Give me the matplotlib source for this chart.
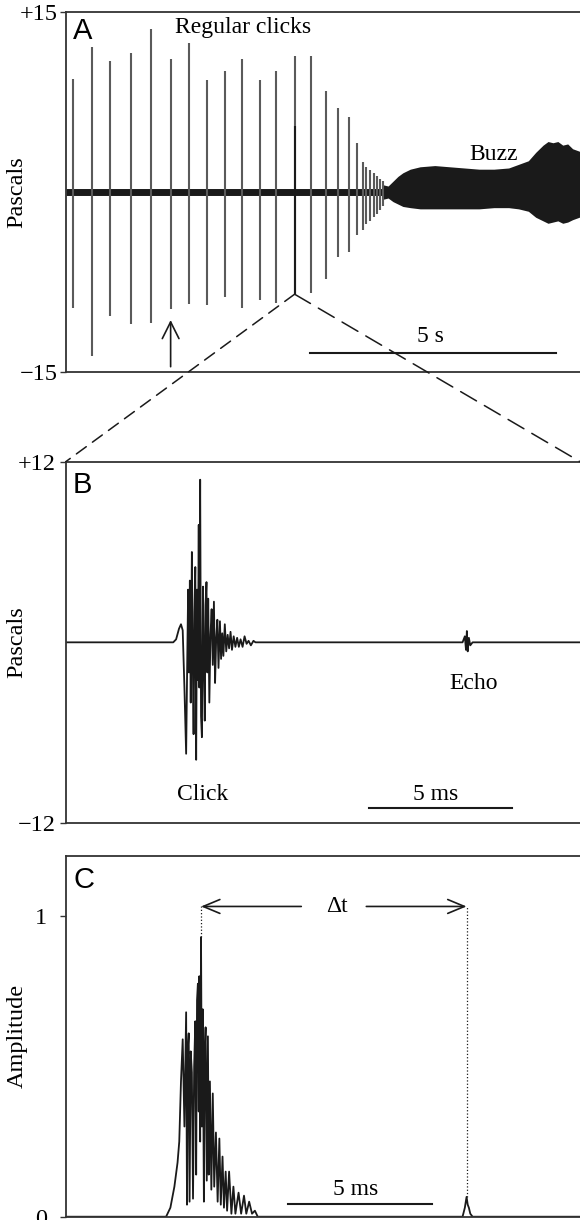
import matplotlib.pyplot as plt
from matplotlib.patches import ConnectionPatch

SERIF = 'Liberation Serif'
SANS = 'Liberation Sans'
INK = '#1a1a1a'
CLICK_GRAY = '#5a5a5a'

# Panel A: click train (s, Pa)
click_times = [0.15, 0.54, 0.90, 1.32, 1.73, 2.13, 2.50, 2.87, 3.23, 3.59, 3.95, 4.28, 4.65,
               4.98, 5.29, 5.54, 5.75, 5.91, 6.03, 6.11, 6.19, 6.26, 6.33, 6.39, 6.45]
click_top = [9.4, 12.1, 10.9, 11.6, 13.6, 11.1, 12.4, 9.3, 10.1, 11.1, 9.3, 10.1, 11.3,
             11.3, 8.4, 7.0, 6.2, 4.1, 2.5, 2.1, 1.8, 1.6, 1.3, 1.1, 0.9]
click_bot = [-9.65, -13.6, -10.3, -11.0, -10.9, -9.7, -9.3, -9.4, -8.7, -9.65, -9.0, -9.2, -8.5,
             -8.4, -7.2, -5.4, -5.0, -3.6, -3.2, -2.7, -2.4, -2.1, -1.8, -1.5, -1.2]

# Panel A: buzz envelope
buzz_t = [6.45, 6.55, 6.65, 6.75, 6.85, 7.0, 7.2, 7.5, 7.8, 8.1, 8.4, 8.7, 9.0, 9.2,
          9.4, 9.55, 9.7, 9.8, 9.9, 10.0, 10.1, 10.2, 10.3, 10.5]
buzz_top = [0.6, 0.5, 0.9, 1.3, 1.6, 1.9, 2.1, 2.2, 2.1, 2.0, 1.9, 1.9, 2.0, 2.3,
            2.6, 3.3, 3.9, 4.2, 4.1, 4.2, 3.9, 4.0, 3.6, 3.3]
buzz_bot = [-0.6, -0.5, -0.8, -1.0, -1.2, -1.3, -1.4, -1.4, -1.4, -1.4, -1.4, -1.3, -1.3, -1.4,
            -1.6, -2.1, -2.4, -2.6, -2.5, -2.4, -2.6, -2.5, -2.3, -2.0]

# Panel B: one click and its echo (ms, Pa)
wave_t = [0.0, 3.75, 3.85, 3.95, 4.02, 4.08, 4.14, 4.20, 4.24, 4.27, 4.30, 4.33, 4.36, 4.40,
          4.43, 4.46, 4.49, 4.52, 4.55, 4.58, 4.61, 4.64, 4.66, 4.69, 4.72, 4.75, 4.79, 4.82,
          4.85, 4.88, 4.91, 4.94, 4.97, 5.01, 5.05, 5.09, 5.13, 5.17, 5.21, 5.25, 5.29, 5.33,
          5.38, 5.42, 5.46, 5.50, 5.55, 5.60, 5.65, 5.70, 5.75, 5.80, 5.86, 5.92, 5.98, 6.04,
          6.10, 6.17, 6.24, 6.31, 6.38, 6.46, 6.55, 6.62, 6.70, 13.85, 13.93, 13.97, 14.00,
          14.03, 14.07, 14.12, 14.20, 17.95]
wave_p = [0.0, 0.0, 0.2, 0.9, 1.2, 0.8, -3.0, -7.4, -1.0, 3.5, -2.0, 4.1, -4.0, 6.0,
          -1.0, -6.1, 2.0, 5.0, -7.8, 3.5, -2.5, 7.8, -3.0, 10.8, -4.9, -6.3, 3.7, -1.5,
          -5.2, 2.5, 4.0, -2.0, 2.9, -4.0, 0.5, 2.2, -1.5, 2.7, -2.7, 0.3, 1.5, -1.7,
          1.4, -1.1, 0.6, -0.9, 1.2, -0.6, 0.5, -0.4, 0.7, -0.5, 0.4, -0.3, 0.3, -0.3,
          0.2, -0.3, 0.4, -0.1, 0.1, -0.2, 0.1, 0.0, 0.0, 0.0, 0.4, -0.5, 0.75,
          -0.6, 0.3, -0.2, 0.0, 0.0]

# Panel C: envelope (ms, normalised amplitude)
env_t = [0.0, 3.5, 3.65, 3.79, 3.9, 3.96, 4.02, 4.08, 4.14, 4.20, 4.23, 4.26, 4.29, 4.32,
         4.36, 4.40, 4.44, 4.48, 4.52, 4.55, 4.58, 4.61, 4.64, 4.66, 4.69, 4.72, 4.75, 4.78,
         4.82, 4.85, 4.88, 4.92, 4.96, 4.99, 5.03, 5.08, 5.13, 5.18, 5.24, 5.30, 5.36, 5.41,
         5.47, 5.52, 5.58, 5.63, 5.70, 5.78, 5.85, 5.92, 6.03, 6.12, 6.22, 6.30, 6.40, 6.50,
         6.60, 6.70, 13.85, 13.93, 13.99, 14.03, 14.07, 14.12, 14.20, 17.95]
env_a = [0.0, 0.0, 0.03, 0.10, 0.18, 0.25, 0.45, 0.59, 0.30, 0.68, 0.04, 0.56, 0.61, 0.05,
         0.55, 0.48, 0.06, 0.50, 0.65, 0.14, 0.72, 0.775, 0.35, 0.80, 0.25, 0.93, 0.30, 0.69,
         0.05, 0.55, 0.63, 0.12, 0.60, 0.14, 0.45, 0.09, 0.41, 0.10, 0.28, 0.05, 0.26, 0.04,
         0.20, 0.03, 0.15, 0.02, 0.15, 0.01, 0.10, 0.01, 0.08, 0.01, 0.07, 0.01, 0.05, 0.01,
         0.02, 0.0, 0.0, 0.03, 0.066, 0.04, 0.03, 0.01, 0.0, 0.0]
click_peak_t = 4.72
echo_peak_t = 13.99

fig = plt.figure(figsize=(5.8, 12.2), dpi=100)
axA = fig.add_axes([0.1135, 0.6948, 0.8865, 0.2956])
axB = fig.add_axes([0.1135, 0.3254, 0.8865, 0.2962])
axC = fig.add_axes([0.1135, 0.0027, 0.8865, 0.2957])


def style_axis(ax, ticks, labels, ylabel, pad):
    ax.spines['right'].set_visible(False)
    for s in ('left', 'top', 'bottom'):
        ax.spines[s].set_color('#333333')
        ax.spines[s].set_linewidth(1.3)
    ax.set_xticks([])
    ax.set_yticks(ticks)
    ax.set_yticklabels(labels, fontfamily=SERIF, fontsize=17.5)
    ax.tick_params(axis='y', direction='out', length=4.5, width=1, color='#333333', pad=pad)
    ax.set_ylabel(ylabel, fontfamily=SERIF, fontsize=17.5)
    ax.yaxis.set_label_coords(-0.075, 0.5)


# ---- A ----
axA.plot([0, 6.5], [0, 0], color=INK, lw=5, solid_capstyle='butt')
axA.vlines(click_times, click_bot, click_top, color=CLICK_GRAY, lw=1.5)
axA.vlines(click_times[12], click_bot[12], 5.5, color=INK, lw=1.5)
axA.fill_between(buzz_t, buzz_bot, buzz_top, color=INK, lw=0)
axA.set_xlim(0, 10.45)
axA.set_ylim(-15, 15)
style_axis(axA, [15, -15], ['+15', '\u221215'], 'Pascals', 1.5)
axA.text(0.014, 0.924, 'A', transform=axA.transAxes, fontfamily=SANS, fontsize=21, va='baseline')
axA.text(2.21, 13.25, 'Regular clicks', fontfamily=SERIF, fontsize=17, va='baseline')
axA.text(8.70, 2.66, 'Buzz', fontfamily=SERIF, fontsize=17, ha='center', va='baseline')
axA.text(7.42, -12.45, '5 s', fontfamily=SERIF, fontsize=17, ha='center', va='baseline')
axA.plot([4.96, 9.96], [-13.35, -13.35], color=INK, lw=1.5)
axA.annotate('', xy=(2.13, -10.65), xytext=(2.13, -14.53),
             arrowprops=dict(arrowstyle='->,head_length=0.6,head_width=0.3', color=INK,
                             lw=1.2, mutation_scale=20, shrinkA=0, shrinkB=0))

# ---- B ----
axB.plot(wave_t, wave_p, color=INK, lw=1.3)
axB.set_xlim(0, 17.95)
axB.set_ylim(-12, 12)
style_axis(axB, [12, -12], ['+12', '\u221212'], 'Pascals', 2.5)
axB.text(0.014, 0.914, 'B', transform=axB.transAxes, fontfamily=SANS, fontsize=21, va='baseline')
axB.text(4.78, -10.48, 'Click', fontfamily=SERIF, fontsize=17, ha='center', va='baseline')
axB.text(14.24, -3.12, 'Echo', fontfamily=SERIF, fontsize=17, ha='center', va='baseline')
axB.text(12.90, -10.48, '5 ms', fontfamily=SERIF, fontsize=17, ha='center', va='baseline')
axB.plot([10.58, 15.58], [-11.03, -11.03], color=INK, lw=1.5)

# ---- C ----
axC.plot(env_t, env_a, color=INK, lw=1.3)
axC.set_xlim(0, 17.95)
axC.set_ylim(0, 1.2)
style_axis(axC, [0, 1], ['0', '1'], 'Amplitude', 9)
axC.text(0.014, 0.910, 'C', transform=axC.transAxes, fontfamily=SANS, fontsize=21, va='baseline')
arrow_y = 1.032
axC.plot([click_peak_t, click_peak_t], [0.93, arrow_y], color=INK, lw=0.9, ls=':')
axC.plot([echo_peak_t, echo_peak_t], [0.066, arrow_y], color=INK, lw=0.9, ls=':')
head = dict(arrowstyle='->,head_length=0.6,head_width=0.25', color=INK, lw=1.2,
            mutation_scale=20, shrinkA=0, shrinkB=0)
axC.annotate('', xy=(click_peak_t, arrow_y), xytext=(8.22, arrow_y), arrowprops=head)
axC.annotate('', xy=(echo_peak_t, arrow_y), xytext=(10.49, arrow_y), arrowprops=head)
axC.text(9.48, 1.013, '\u0394t', fontfamily=SERIF, fontsize=17, ha='center', va='baseline')
axC.text(10.11, 0.072, '5 ms', fontfamily=SERIF, fontsize=17, ha='center', va='baseline')
axC.plot([7.77, 12.79], [0.042, 0.042], color=INK, lw=1.5)

# zoom lines from the chosen click down to panel B
for xb, dash in ((0, (8, 5)), (17.95, (12, 6))):
    con = ConnectionPatch(xyA=(click_times[12], click_bot[12]), coordsA='data', axesA=axA,
                          xyB=(xb, 12), coordsB='data', axesB=axB,
                          color=INK, lw=1.1, linestyle=(0, dash))
    fig.add_artist(con)

fig.savefig('out.png', dpi=100)
